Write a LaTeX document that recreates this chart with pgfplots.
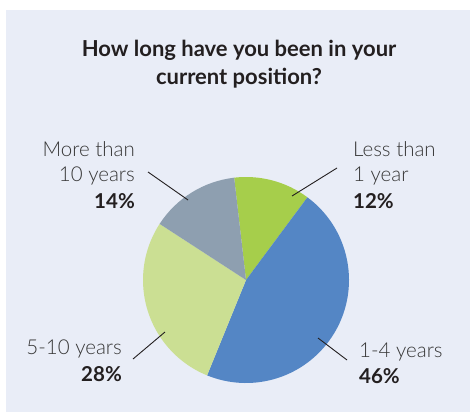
\documentclass[border=0pt]{standalone}
\usepackage{pgfplots}
\pgfplotsset{compat=1.18}
\usepackage{pgfplotstable}
\usepackage{fontspec}
\setmainfont{Lato}
\IfFontExistsTF{Lato Light}{\newfontfamily\lightfont{Lato Light}}{\newfontfamily\lightfont{Lato}}
\definecolor{bgpanel}{RGB}{233,237,247}
\definecolor{cGreen}{RGB}{166,206,75}
\definecolor{cBlue}{RGB}{84,134,197}
\definecolor{cLight}{RGB}{203,223,147}
\definecolor{cGrey}{RGB}{142,159,176}
\definecolor{txt}{RGB}{55,55,55}
\definecolor{txtb}{RGB}{35,31,32}
\pgfplotstableread{
category share
Less1 12
OneFour 46
FiveTen 28
More10 14
}\piedata
\begin{document}
\begin{tikzpicture}
\pgfplotstablegetelem{0}{share}\of\piedata \let\vA\pgfplotsretval
\pgfplotstablegetelem{1}{share}\of\piedata \let\vB\pgfplotsretval
\pgfplotstablegetelem{2}{share}\of\piedata \let\vC\pgfplotsretval
\pgfplotstablegetelem{3}{share}\of\piedata \let\vD\pgfplotsretval
\pgfmathsetmacro\aA{96.6}
\pgfmathsetmacro\aB{\aA-3.6*\vA}
\pgfmathsetmacro\aC{\aB-3.6*\vB}
\pgfmathsetmacro\aD{\aC-3.6*\vC}
\pgfmathsetmacro\aE{\aD-3.6*\vD}
\begin{axis}[
  width=470bp, height=413bp, scale only axis,
  xmin=0, xmax=470, ymin=0, ymax=413,
  hide axis, clip=false,
]
\fill[white] (axis cs:0,0) rectangle (axis cs:470,413);
\fill[bgpanel] (axis cs:6,1) rectangle (axis cs:470,403);
\fill[cGreen] (axis cs:246,133) -- ++(\aA:103bp) arc[start angle=\aA, end angle=\aB, radius=103bp] -- cycle;
\fill[cBlue] (axis cs:246,133) -- ++(\aB:103bp) arc[start angle=\aB, end angle=\aC, radius=103bp] -- cycle;
\fill[cLight] (axis cs:246,133) -- ++(\aC:103bp) arc[start angle=\aC, end angle=\aD, radius=103bp] -- cycle;
\fill[cGrey] (axis cs:246,133) -- ++(\aD:103bp) arc[start angle=\aD, end angle=\aE, radius=103bp] -- cycle;
% title
\node[anchor=base, inner sep=0, font=\fontsize{22bp}{26bp}\selectfont\bfseries, text=txtb] at (axis cs:239,356) {How long have you been in your};
\node[anchor=base, inner sep=0, font=\fontsize{22bp}{26bp}\selectfont\bfseries, text=txtb] at (axis cs:239,328) {current position?};
% labels
\begin{scope}[every node/.style={inner sep=0, font=\fontsize{20.5bp}{24bp}\selectfont\lightfont, text=txt}]
\node[anchor=base east] at (axis cs:135,256) {More than};
\node[anchor=base east] at (axis cs:135,231) {10 years};
\node[anchor=base east, font=\fontsize{20.5bp}{24bp}\selectfont\bfseries, text=txtb] at (axis cs:135,205) {14\%};
\node[anchor=base west] at (axis cs:353,256) {Less than};
\node[anchor=base west] at (axis cs:353,231) {1 year};
\node[anchor=base west, font=\fontsize{20.5bp}{24bp}\selectfont\bfseries, text=txtb] at (axis cs:353,205) {12\%};
\node[anchor=base east] at (axis cs:122,59) {5-10 years};
\node[anchor=base east, font=\fontsize{20.5bp}{24bp}\selectfont\bfseries, text=txtb] at (axis cs:122,32) {28\%};
\node[anchor=base west] at (axis cs:359,56) {1-4 years};
\node[anchor=base west, font=\fontsize{20.5bp}{24bp}\selectfont\bfseries, text=txtb] at (axis cs:359,30) {46\%};
\end{scope}
\draw[txtb, line width=0.9bp] (axis cs:148,241) -- (axis cs:188,213);
\draw[txtb, line width=0.9bp] (axis cs:337,245) -- (axis cs:292,217);
\draw[txtb, line width=0.9bp] (axis cs:133,54) -- (axis cs:165,81);
\draw[txtb, line width=0.9bp] (axis cs:318,75) -- (axis cs:347,53);
\end{axis}
\end{tikzpicture}
\end{document}
